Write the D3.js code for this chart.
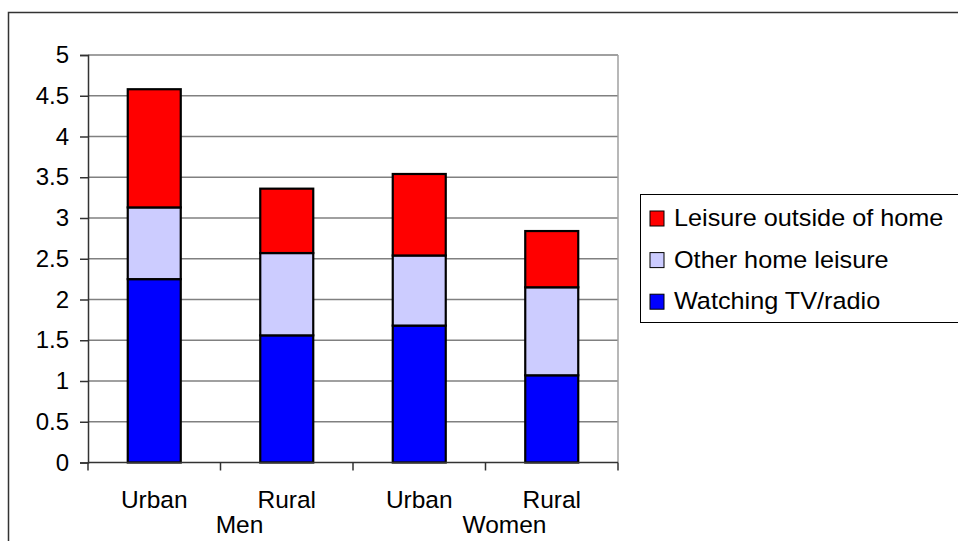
<!DOCTYPE html>
<html><head><meta charset="utf-8">
<script src="https://cdn.jsdelivr.net/npm/d3@7"></script>
<style>
html,body{margin:0;padding:0;background:#fff;}
svg text{font-family:"Liberation Sans",Arial,sans-serif;fill:#000;}
</style></head>
<body>
<script>
const categories = ["Urban","Rural","Urban","Rural"];
const groups = ["Men","Women"];
const seriesNames = ["Watching TV/radio","Other home leisure","Leisure outside of home"];
const tvRadio = [2.25, 1.56, 1.68, 1.07];
const otherHome = [0.88, 1.01, 0.86, 1.08];
const outsideHome = [1.45, 0.79, 1.00, 0.69];
const yTicks = [0,0.5,1,1.5,2,2.5,3,3.5,4,4.5,5];
const colors = ["#0000FF","#CCCCFF","#FF0000"];

const W = 958, H = 541;
const svg = d3.select("body").append("svg").attr("width", W).attr("height", H);

// outer chart border
svg.append("rect").attr("x", 8.5).attr("y", 12.5).attr("width", 960).attr("height", 560)
  .attr("fill", "#fff").attr("stroke", "#333").attr("stroke-width", 1.5);

const x = d3.scaleBand().domain(d3.range(categories.length)).range([88, 618])
  .paddingInner(0.6).paddingOuter(0.3);
const y = d3.scaleLinear().domain([0, 5]).range([462.5, 55]);

// gridlines
svg.append("g").selectAll("line").data(yTicks.slice(1)).join("line")
  .attr("x1", 88).attr("x2", 618).attr("y1", d => y(d)).attr("y2", d => y(d))
  .attr("stroke", "#808080").attr("stroke-width", 1.5);
// right plot border
svg.append("line").attr("x1", 618).attr("x2", 618).attr("y1", y(5)).attr("y2", y(0))
  .attr("stroke", "#a0a0a0").attr("stroke-width", 1.5);

// stacked bars
const data = categories.map((c, i) => ({i, vals: [tvRadio[i], otherHome[i], outsideHome[i]]}));
const stack = d3.stack().keys([0,1,2]).value((d, k) => d.vals[k]);
const stacked = stack(data);
svg.append("g").selectAll("g").data(stacked).join("g")
  .attr("fill", (d, k) => colors[k])
  .selectAll("rect").data(d => d).join("rect")
  .attr("x", d => x(d.data.i)).attr("width", x.bandwidth())
  .attr("y", d => y(d[1])).attr("height", d => y(d[0]) - y(d[1]))
  .attr("stroke", "#000").attr("stroke-width", 2.2);

// y axis
const yAxis = d3.axisLeft(y).tickValues(yTicks).tickSize(8).tickPadding(11)
  .tickFormat(d3.format(""));
const ga = svg.append("g").attr("transform", "translate(88,0)").call(yAxis);
ga.select(".domain").attr("stroke", "#333").attr("stroke-width", 1.5);
ga.selectAll(".tick line").attr("stroke", "#333").attr("stroke-width", 1.5);
ga.selectAll(".tick text").attr("font-size", 24).attr("font-family", "Liberation Sans, Arial, sans-serif")
  .attr("fill", "#000");

// x axis
const xEdges = d3.range(categories.length + 1).map(i => 88 + i * x.step());
const gx = svg.append("g");
gx.append("line").attr("x1", 88).attr("x2", 618).attr("y1", y(0)).attr("y2", y(0))
  .attr("stroke", "#333").attr("stroke-width", 1.5);
gx.selectAll("line.t").data(xEdges).join("line").attr("class", "t")
  .attr("x1", d => d).attr("x2", d => d).attr("y1", y(0)).attr("y2", y(0) + 8)
  .attr("stroke", "#333").attr("stroke-width", 1.5);
gx.selectAll("text.c").data(categories).join("text").attr("class", "c")
  .attr("x", (d, i) => x(i) + x.bandwidth() / 2).attr("y", 508)
  .attr("text-anchor", "middle").attr("font-size", 24.5).text(d => d);
gx.selectAll("text.g").data(groups).join("text").attr("class", "g")
  .attr("x", (d, i) => 88 + (i * 2 + 1) * x.step() + 19).attr("y", 533)
  .attr("text-anchor", "middle").attr("font-size", 24.5).text(d => d);

// legend
const lg = svg.append("g");
lg.append("rect").attr("x", 640.5).attr("y", 194.5).attr("width", 340).attr("height", 128)
  .attr("fill", "#fff").attr("stroke", "#000").attr("stroke-width", 1);
const legendOrder = [2, 1, 0];
legendOrder.forEach((k, j) => {
  const by = 226 + j * 41.6;
  lg.append("rect").attr("x", 650).attr("y", by - 15).attr("width", 14).attr("height", 15)
    .attr("fill", colors[k]).attr("stroke", "#000").attr("stroke-width", 1);
  lg.append("text").attr("x", 674).attr("y", by).attr("font-size", 23.5)
    .attr("transform", `translate(674,${by}) scale(1.075,1) translate(-674,${-by})`)
    .text(seriesNames[k]);
});
</script>
</body></html>
